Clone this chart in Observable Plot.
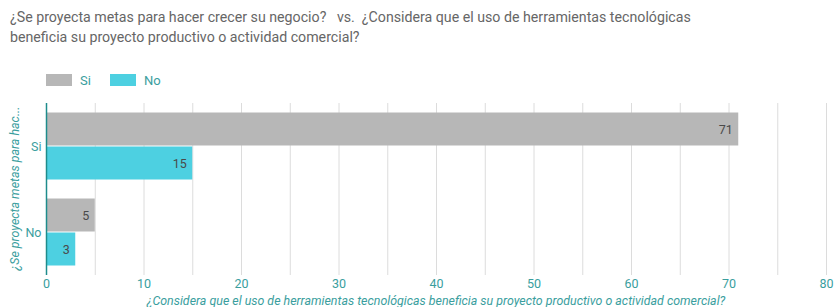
<!DOCTYPE html>
<html><head><meta charset="utf-8">
<script src="https://cdn.jsdelivr.net/npm/d3@7"></script>
<script src="https://cdn.jsdelivr.net/npm/@observablehq/plot@0.6"></script>
<style>
body{margin:0;background:#fff;font-family:Roboto,sans-serif;width:835px;height:307px;position:relative;overflow:hidden}
#title{position:absolute;left:10px;top:7px;font-size:14.2px;line-height:20px;color:#666;white-space:pre}
#legend{position:absolute;left:46px;top:73px;font-size:13px;color:#3a9e9e;display:flex;align-items:center;height:14px}
.item{display:inline-flex;align-items:center;margin-right:19px}
.sw{display:inline-block;width:26px;height:12px;margin-right:8px}
#chart{position:absolute;left:0;top:96px}
#ylab{position:absolute;left:-86px;top:182px;width:200px;text-align:center;transform:rotate(-90deg);font-size:12.4px;font-style:italic;color:#3a9e9e;line-height:13px}
#xlab{position:absolute;left:46px;top:294px;width:780px;text-align:center;font-size:12.4px;font-style:italic;color:#3a9e9e;line-height:13px}
</style></head>
<body>
<div id="title">¿Se proyecta metas para hacer crecer su negocio?   vs.  ¿Considera que el uso de herramientas tecnológicas
beneficia su proyecto productivo o actividad comercial?</div>
<div id="legend"></div>
<div id="chart"></div>
<div id="ylab">¿Se proyecta metas para hac...</div>
<div id="xlab">¿Considera que el uso de herramientas tecnológicas beneficia su proyecto productivo o actividad comercial?</div>
<script>
const groups = ["Si", "No"];          // ¿Se proyecta metas...?
const series = ["Si", "No"];          // ¿Considera que el uso...?
const seriesColors = ["#b7b7b7", "#4dd0e1"];
const valuesSi = [71, 5];             // series "Si" for groups Si, No
const valuesNo = [15, 3];             // series "No" for groups Si, No
const xTicks = [0, 10, 20, 30, 40, 50, 60, 70, 80];
const gridTicks = [5, 10, 15, 20, 25, 30, 35, 40, 45, 50, 55, 60, 65, 70, 75, 80];

const rows = groups.flatMap((g, i) => [
  {group: g, serie: series[0], value: valuesSi[i]},
  {group: g, serie: series[1], value: valuesNo[i]}
]);

const legend = document.getElementById("legend");
series.forEach((s, i) => {
  const it = document.createElement("span");
  it.className = "item";
  it.innerHTML = `<span class="sw" style="background:${seriesColors[i]}"></span>${s}`;
  legend.appendChild(it);
});

const chart = Plot.plot({
  width: 835, height: 211,
  marginTop: 6, marginBottom: 32, marginLeft: 46, marginRight: 9,
  style: {color: "#3a9e9e", fontFamily: "Roboto, sans-serif", fontSize: "12.5px", background: "white"},
  facet: {data: rows, y: "group"},
  fy: {domain: groups, padding: 0, label: null, tickSize: 0, tickPadding: 5, axis: "left"},
  y: {domain: series, paddingInner: 0, paddingOuter: 0.235, axis: null},
  x: {domain: [0, 80], ticks: xTicks, tickSize: 0, tickPadding: 4, label: null},
  color: {domain: series, range: seriesColors},
  marks: [
    Plot.ruleX(gridTicks, {stroke: "#dcdcdc", strokeWidth: 1}),
    Plot.barX(rows, {x: "value", y: "serie", fill: "serie", insetTop: 0.5, insetBottom: 0.5}),
    Plot.text(rows, {x: "value", y: "serie", text: "value", textAnchor: "end", dx: -6, fill: "#4a4a4a", fontSize: 12.5}),
    Plot.ruleX([0], {stroke: "#1e8c8c", strokeWidth: 1.5})
  ]
});
document.getElementById("chart").appendChild(chart);
</script>
</body></html>
